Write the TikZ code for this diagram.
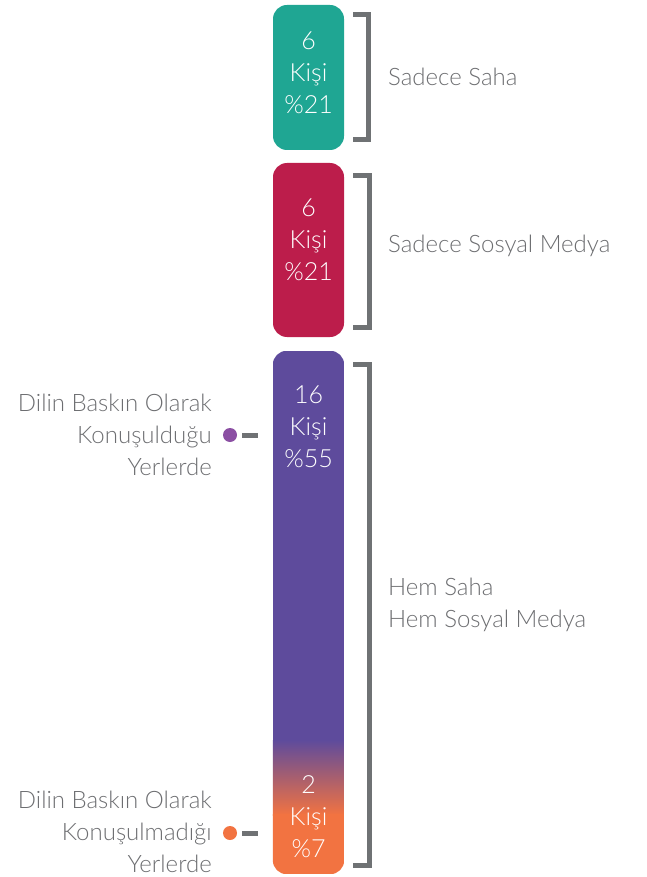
\documentclass[tikz,border=0pt]{standalone}
\usepackage{fontspec}
\setmainfont{Lato}[UprightFont=* Light]
\definecolor{tealc}{HTML}{1FA693}
\definecolor{crim}{HTML}{BC1D4B}
\definecolor{purp}{HTML}{5E4B9C}
\definecolor{orng}{HTML}{F27341}
\definecolor{dotpurp}{HTML}{8B4FA3}
\definecolor{txtgray}{HTML}{6D6E71}
\definecolor{brgray}{HTML}{6F7274}
\begin{document}
\begin{tikzpicture}[x=1pt,y=-1pt,
  bar/.style={rounded corners=14pt, minimum width=71pt, inner sep=0pt, draw=none},
  intxt/.style={text=white, align=center, font=\fontsize{25}{32}\selectfont, inner sep=0pt},
  lbl/.style={text=txtgray, font=\fontsize{24}{32}\selectfont, inner sep=0pt},
  brk/.style={draw=brgray, line width=5pt},
  dashc/.style={draw=brgray, line width=5pt},
  dot/.style={circle, minimum size=14pt, inner sep=0pt}]
\useasboundingbox (0,0) rectangle (646,877);
% bars
\node[bar, fill=tealc, minimum height=145pt] (b1) at (308.5,77.5) {};
\node[bar, fill=crim, minimum height=174pt] (b2) at (308.5,250) {};
\node[bar, minimum height=523pt] (b3) at (308.5,612.5) {};
\begin{scope}
\clip[rounded corners=14pt] (b3.north west) rectangle (b3.south east);
\fill[purp] (b3.north west) rectangle (345,741);
\shade[top color=purp, bottom color=orng] (272,740) rectangle (345,815);
\fill[orng] (272,814) rectangle (b3.south east);
\end{scope}
% bar texts
\node[intxt] (t1) at (308.5,73) {6\\Kişi\\\%21};
\node[intxt] (t2) at (308.5,240) {6\\Kişi\\\%21};
\node[intxt] (t3) at (308.5,427) {16\\Kişi\\\%55};
\node[intxt] (t4) at (308.5,817) {2\\Kişi\\\%7};
% brackets
\coordinate (k1a) at (353,14.5);
\coordinate (k1b) at (353,140);
\draw[brk] (k1a) -| (368,140) -- (k1b);
\coordinate (k2a) at (353,176);
\coordinate (k2b) at (353,327);
\draw[brk] (k2a) -| (369,327) -- (k2b);
\coordinate (k3a) at (353,364);
\coordinate (k3b) at (353,865);
\draw[brk] (k3a) -| (369,865) -- (k3b);
% right labels
\node[lbl, anchor=west] (r1) at (388,77) {Sadece Saha};
\node[lbl, anchor=west] (r2) at (388,246) {Sadece Sosyal Medya};
\node[lbl, anchor=west, align=left] (r3) at (388,605) {Hem Saha\\Hem Sosyal Medya};
% left labels
\node[lbl, anchor=east, align=right] (l1) at (212,435) {Dilin Baskın Olarak\\Konuşulduğu\\Yerlerde};
\node[lbl, anchor=east, align=right] (l2) at (212,832) {Dilin Baskın Olarak\\Konuşulmadığı\\Yerlerde};
% dots and dashes
\node[dot, fill=dotpurp] (d1) at (230,435) {};
\node[dot, fill=orng] (d2) at (230,833) {};
\draw[dashc] ([xshift=5pt]d1.east) -- ([xshift=21pt]d1.east);
\draw[dashc] ([xshift=5pt]d2.east) -- ([xshift=21pt]d2.east);
\end{tikzpicture}
\end{document}
